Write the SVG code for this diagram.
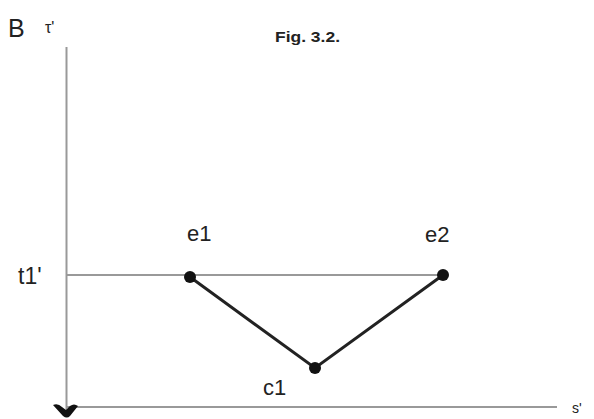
<svg xmlns="http://www.w3.org/2000/svg" width="594" height="419" viewBox="0 0 594 419">
<style>
.ax{stroke:#999;stroke-width:2;fill:none}
.ln{stroke:#222;stroke-width:3;fill:none}
.t{font-family:"Liberation Sans",Arial,sans-serif;fill:#222}
.pt{fill:#111}
</style>
<rect width="594" height="419" fill="#fff"/>
<g id="connectors">
<line class="ax" x1="66.5" y1="47" x2="66.5" y2="410"/>
<line class="ax" x1="66" y1="407" x2="557" y2="407"/>
<line class="ax" x1="66" y1="275" x2="443" y2="275"/>
<polyline class="ln" points="190,277 315,368 443,275"/>
<path class="pt" d="M53,405 Q58,403 62,407 L66,410 L70,406 Q74,403 78,406 L70,416 Q67,419 63,416 Z"/>
</g>
<g id="labels">
<text class="t" x="8" y="37" font-size="25">B</text>
<text class="t" x="45" y="33" font-size="16">τ'</text>
<text class="t" x="275" y="42" font-size="15" font-weight="bold" textLength="65" lengthAdjust="spacingAndGlyphs">Fig. 3.2.</text>
<text class="t" x="18" y="284" font-size="23">t1'</text>
<text class="t" x="572" y="413" font-size="14">s'</text>
</g>
<g id="e1"><circle class="pt" cx="190" cy="277" r="6"/><text class="t" x="187" y="241" font-size="22">e1</text></g>
<g id="e2"><circle class="pt" cx="443" cy="275" r="6"/><text class="t" x="425" y="242" font-size="22">e2</text></g>
<g id="c1"><circle class="pt" cx="315" cy="368" r="6"/><text class="t" x="263" y="395" font-size="22">c1</text></g>
</svg>
